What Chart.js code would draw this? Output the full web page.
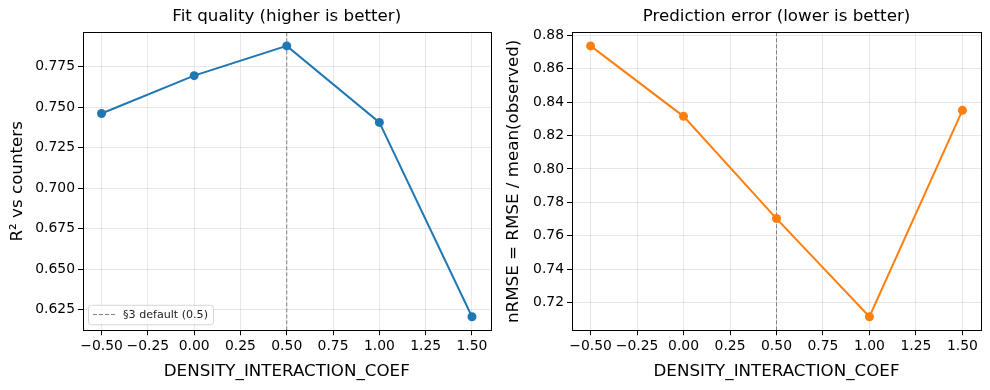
<!DOCTYPE html>
<html>
<head>
<meta charset="utf-8">
<script src="https://cdn.jsdelivr.net/npm/chart.js@4/dist/chart.umd.min.js"></script>
<style>
  body { margin: 0; background: #fff; }
  #wrap { position: relative; width: 990px; height: 390px; }
  canvas { position: absolute; top: 0; }
</style>
</head>
<body>
<div id="wrap">
  <canvas id="fitChart" width="495" height="390" style="left:0"></canvas>
  <canvas id="errChart" width="495" height="390" style="left:495px"></canvas>
</div>
<script>
// Values
const coefValues = [-0.5, 0.0, 0.5, 1.0, 1.5];
const r2Values = [0.7461, 0.7695, 0.7879, 0.7406, 0.6205];
const nrmseValues = [0.8737, 0.8315, 0.7703, 0.7115, 0.8351];
const xTicks = [-0.5, -0.25, 0.0, 0.25, 0.5, 0.75, 1.0, 1.25, 1.5];
const r2Ticks = [0.625, 0.65, 0.675, 0.7, 0.725, 0.75, 0.775];
const nrmseTicks = [0.72, 0.74, 0.76, 0.78, 0.80, 0.82, 0.84, 0.86, 0.88];
const defaultCoef = 0.5;
const defaultLabel = '§3 default (0.5)';

const FONT = 'DejaVu Sans';
const GRID = 'rgba(176,176,176,0.3)';

// matplotlib-like 5% margins around the data
function padRange(arr) {
  const lo = Math.min(...arr), hi = Math.max(...arr);
  const m = (hi - lo) * 0.05;
  return [lo - m, hi + m];
}

function fmt(v, d) {
  return v.toFixed(d).replace('-', '\u2212');
}

// vertical default line, frame and the small legend
const framePlugin = {
  id: 'frame',
  beforeDatasetsDraw(chart) {
    const { ctx, chartArea: a, scales: { x } } = chart;
    const px = x.getPixelForValue(defaultCoef);
    ctx.save();
    ctx.strokeStyle = 'gray';
    ctx.lineWidth = 1;
    ctx.setLineDash([4, 2]);
    ctx.beginPath();
    ctx.moveTo(px, a.top);
    ctx.lineTo(px, a.bottom);
    ctx.stroke();
    ctx.restore();
  },
  afterDraw(chart, args, opts) {
    const { ctx, chartArea: a } = chart;
    ctx.save();
    ctx.strokeStyle = '#000';
    ctx.lineWidth = 1;
    ctx.strokeRect(Math.round(a.left) + 0.5, Math.round(a.top) + 0.5,
      Math.round(a.right - a.left), Math.round(a.bottom - a.top));

    if (opts.legend) {
      ctx.font = '11.1px "' + FONT + '"';
      const tw = ctx.measureText(defaultLabel).width;
      const bx = a.left + 5, bh = 19.5, bw = 35 + tw + 5;
      const by = a.bottom - 6 - bh;
      ctx.beginPath();
      ctx.roundRect(bx + 0.5, by + 0.5, bw, bh, 3);
      ctx.fillStyle = 'rgba(255,255,255,0.8)';
      ctx.fill();
      ctx.strokeStyle = '#d6d6d6';
      ctx.stroke();
      const cy = by + bh / 2;
      ctx.strokeStyle = 'gray';
      ctx.setLineDash([4, 2]);
      ctx.beginPath();
      ctx.moveTo(bx + 5, cy);
      ctx.lineTo(bx + 28, cy);
      ctx.stroke();
      ctx.fillStyle = '#222';
      ctx.textBaseline = 'middle';
      ctx.fillText(defaultLabel, bx + 35, cy + 0.5);
    }
    ctx.restore();
  }
};

function makeChart(id, values, color, yTicks, decimals, title, yTitle, layout) {
  const [ymin, ymax] = padRange(values);
  const [xmin, xmax] = padRange(coefValues);
  return new Chart(document.getElementById(id), {
    type: 'line',
    data: {
      datasets: [{
        data: coefValues.map((c, i) => ({ x: c, y: values[i] })),
        borderColor: color,
        backgroundColor: color,
        borderWidth: 2,
        pointRadius: 4.5,
        pointHoverRadius: 4.5,
        pointBorderWidth: 0,
        tension: 0
      }]
    },
    plugins: [framePlugin],
    options: {
      responsive: false,
      animation: false,
      devicePixelRatio: 1,
      layout: { padding: { left: layout.padLeft, right: layout.padRight, top: 0, bottom: 4 } },
      plugins: {
        legend: { display: false },
        tooltip: { enabled: false },
        title: {
          display: true,
          text: title,
          fullSize: false,
          color: '#000',
          font: { family: FONT, size: 16.7, weight: 'normal' },
          padding: { top: 7, bottom: 5.3 }
        },
        frame: { legend: layout.legend }
      },
      scales: {
        x: {
          type: 'linear',
          min: xmin,
          max: xmax,
          afterBuildTicks: s => { s.ticks = xTicks.map(v => ({ value: v })); },
          ticks: {
            color: '#000',
            padding: 3,
            maxRotation: 0,
            font: { family: FONT, size: 13.9 },
            callback: v => fmt(v, 2)
          },
          grid: { color: GRID, tickColor: '#000', tickLength: 5, lineWidth: 1 },
          border: { display: false },
          title: {
            display: true,
            text: 'DENSITY_INTERACTION_COEF',
            color: '#000',
            font: { family: FONT, size: 16.7 },
            padding: { top: 4, bottom: 4 }
          }
        },
        y: {
          type: 'linear',
          min: ymin,
          max: ymax,
          afterBuildTicks: s => { s.ticks = yTicks.map(v => ({ value: v })); },
          afterFit: s => { s.width = layout.yWidth; },
          ticks: {
            color: '#000',
            padding: 3,
            font: { family: FONT, size: 13.9 },
            callback: v => fmt(v, decimals)
          },
          grid: { color: GRID, tickColor: '#000', tickLength: 5, lineWidth: 1 },
          border: { display: false },
          title: {
            display: true,
            text: yTitle,
            color: '#000',
            font: { family: FONT, size: 16.7 },
            padding: { top: 4, bottom: 4 }
          }
        }
      }
    }
  });
}

makeChart('fitChart', r2Values, '#1f77b4', r2Ticks, 3,
  'Fit quality (higher is better)', 'R\u00b2 vs counters',
  { padLeft: 4, padRight: 3, yWidth: 79, legend: true });

makeChart('errChart', nrmseValues, '#ff7f0e', nrmseTicks, 2,
  'Prediction error (lower is better)', 'nRMSE = RMSE / mean(observed)',
  { padLeft: 5, padRight: 9, yWidth: 72, legend: false });
</script>
</body>
</html>
